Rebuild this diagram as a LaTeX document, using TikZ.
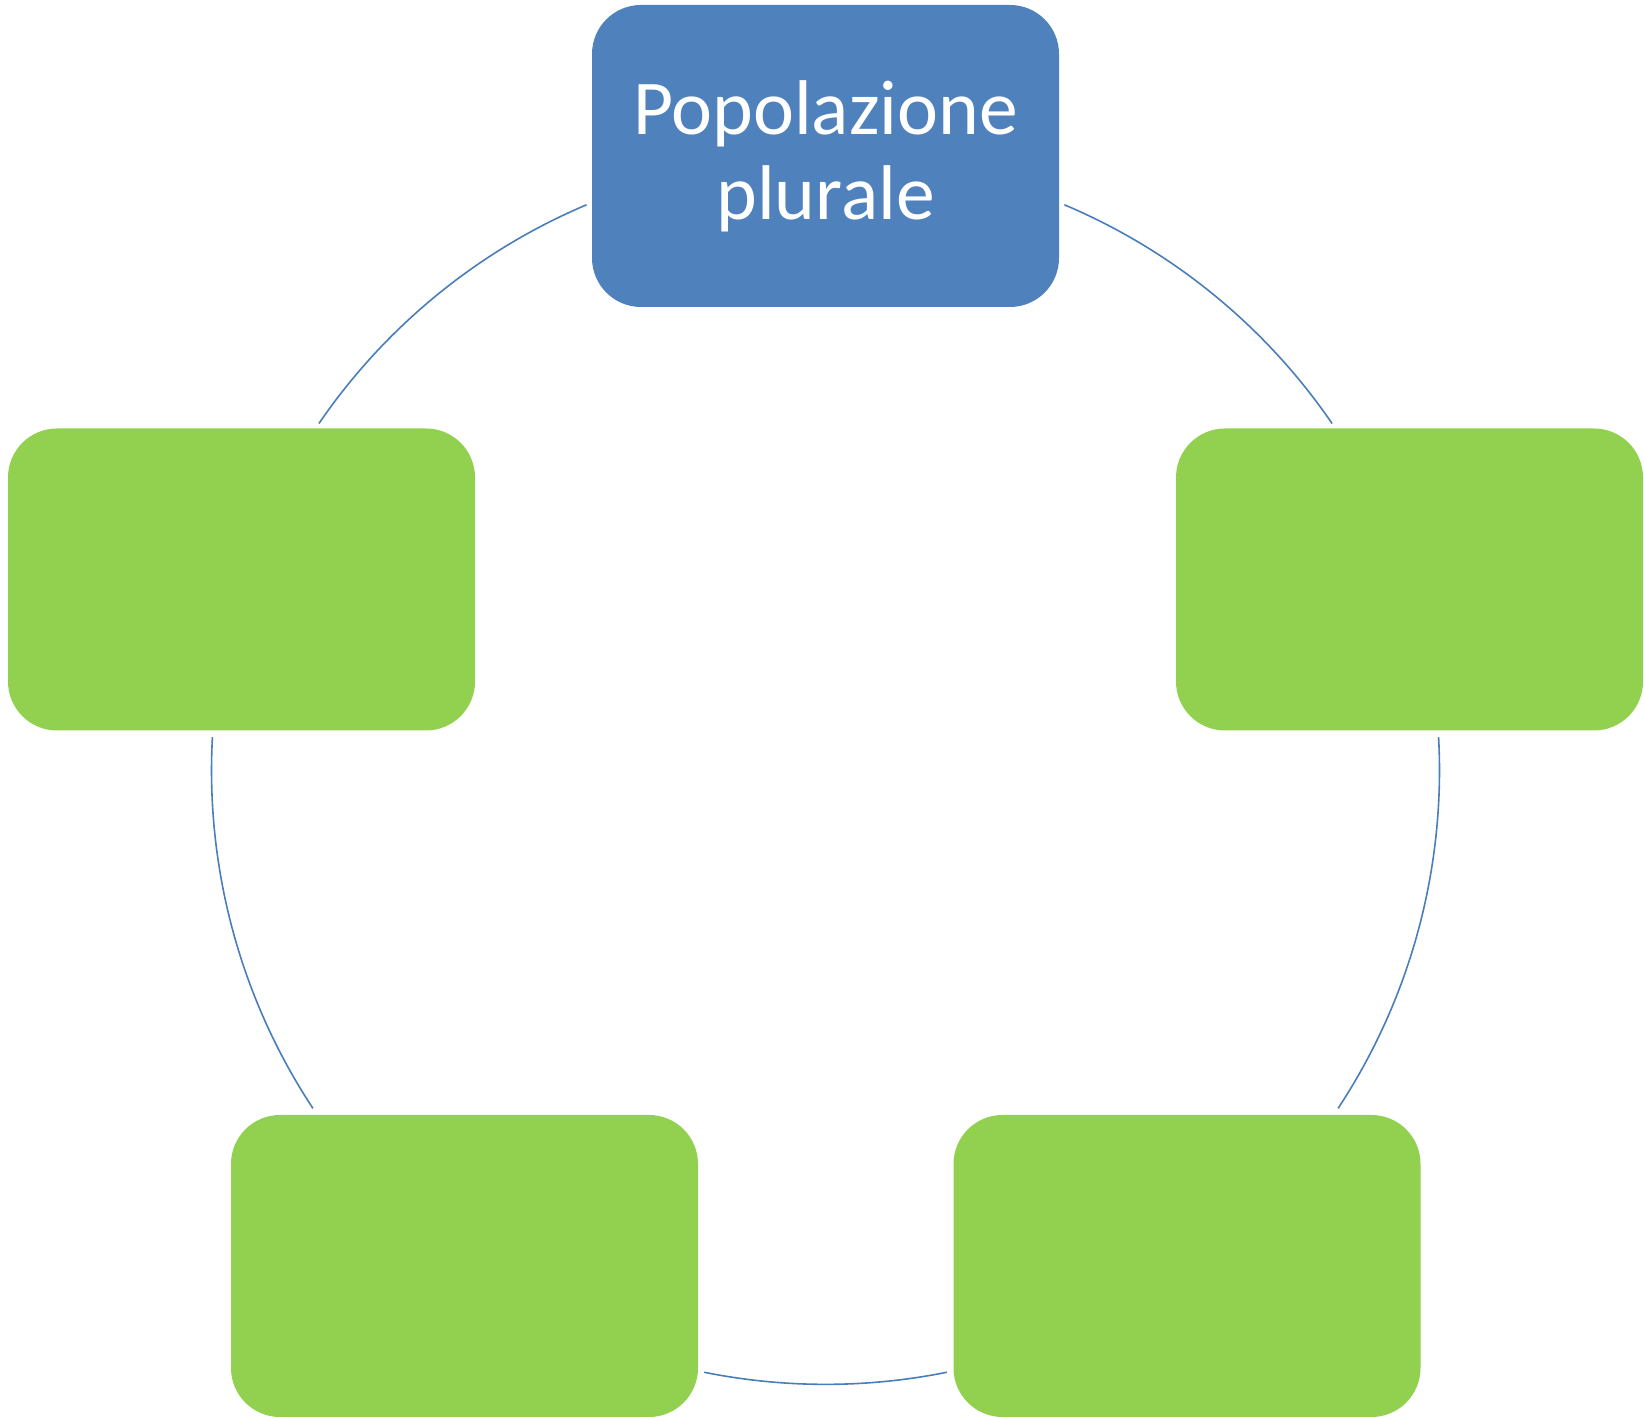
\documentclass[tikz,border=0pt]{standalone}
\usepackage{fontspec}
\setmainfont{Carlito}
\definecolor{boxblue}{HTML}{4F81BD}
\definecolor{boxgreen}{HTML}{92D050}
\definecolor{linkblue}{HTML}{4A7EBB}
\begin{document}
\begin{tikzpicture}[x=0.5pt,y=0.5pt,
  cardbox/.style={rectangle, rounded corners=24.5pt, minimum width=233.5pt, minimum height=151pt, inner sep=0pt, outer sep=0pt},
  bluebox/.style={cardbox, fill=boxblue, text=white, align=center, font=\fontsize{38.8}{42.5}\selectfont},
  greenbox/.style={cardbox, fill=boxgreen},
  link/.style={draw=linkblue, line width=0.8pt}]
\useasboundingbox (0,0) rectangle (1644,1418);
\coordinate (ctr) at (825.5,647.6);
\node[bluebox] (top) at (825.5,1262) {Popolazione\\plurale};
\node[greenbox] (left) at (241.5,838.5) {};
\node[greenbox] (right) at (1409.5,838.5) {};
\node[greenbox] (bl) at (464.5,152) {};
\node[greenbox] (br) at (1187,152) {};
\draw[link] ([shift={(67.1:614)}]ctr) arc[start angle=67.1, end angle=34.4, radius=614];
\draw[link] ([shift={(112.9:614)}]ctr) arc[start angle=112.9, end angle=145.6, radius=614];
\draw[link] ([shift={(176.9:614)}]ctr) arc[start angle=176.9, end angle=213.4, radius=614];
\draw[link] ([shift={(3.1:614)}]ctr) arc[start angle=3.1, end angle=-33.4, radius=614];
\draw[link] ([shift={(258.6:614)}]ctr) arc[start angle=258.6, end angle=281.4, radius=614];
\end{tikzpicture}
\end{document}
